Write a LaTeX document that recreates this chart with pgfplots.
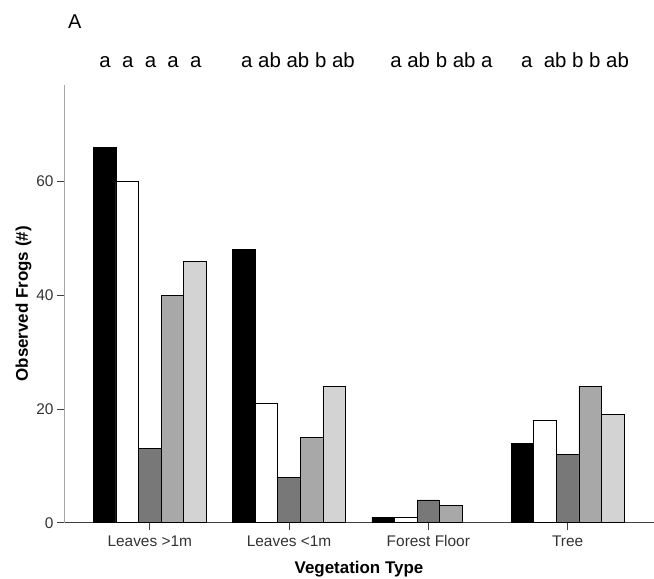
\documentclass[border=0pt]{standalone}
\usepackage{fontspec}
\setmainfont{Liberation Sans}
\usepackage{pgfplots}
\pgfplotsset{compat=1.18}
\definecolor{cdark}{HTML}{787878}
\definecolor{cmid}{HTML}{A8A8A8}
\definecolor{clight}{HTML}{D3D3D3}
\begin{document}
\begin{tikzpicture}[x=1bp,y=1bp]
\begin{axis}[
  at={(64bp,56.3bp)}, anchor=south west,
  scale only axis, width=590bp, height=437.7bp,
  xmin=-0.616, xmax=3.62, ymin=0, ymax=77,
  clip=false,
  separate axis lines,
  axis x line=bottom, axis y line=left,
  x axis line style={-, draw=black!75, line width=0.8bp},
  y axis line style={-, draw=black!35, line width=0.8bp},
  tick align=outside, major tick length=7bp,
  tick style={draw=black!75, line width=0.8bp},
  xtick={0,1,2,3},
  xticklabels={Leaves >1m, Leaves <1m, Forest Floor, Tree},
  ytick={0,20,40,60},
  /pgf/number format/assume math mode=true,
  tick label style={font=\fontsize{15.5}{18}\selectfont, text=black!80},
  xticklabel style={anchor=base, yshift=-17bp},
  yticklabel style={anchor=east},
  every axis x label/.style={at={(rel axis cs:0.5,0)}, anchor=base, yshift=-50.3bp},
  every axis y label/.style={at={(rel axis cs:0,0.5)}, anchor=base, xshift=-36bp, rotate=90},
  xlabel={\fontsize{17}{20}\selectfont\bfseries Vegetation Type},
  ylabel={\fontsize{17}{20}\selectfont\bfseries Observed Frogs (\#)},
  ybar, bar width=0.1623,
  every axis plot/.append style={draw=black, line width=0.7bp},
]
\addplot[fill=black, bar shift=-0.3246] coordinates {(0,66) (1,48) (2,1) (3,14)};
\addplot[fill=white, bar shift=-0.1623] coordinates {(0,60) (1,21) (2,1) (3,18)};
\addplot[fill=cdark, bar shift=0] coordinates {(0,13) (1,8) (2,4) (3,12)};
\addplot[fill=cmid, bar shift=0.1623] coordinates {(0,40) (1,15) (2,3) (3,24)};
\addplot[fill=clight, bar shift=0.3246] coordinates {(0,46) (1,24) (3,19)};
\begin{scope}[every node/.style={anchor=base, font=\fontsize{20.5}{24}\selectfont, inner sep=0pt}]
\node at (axis cs:0.005,80) {a\ \ a\ \ a\ \ a\ \ a};
\node at (axis cs:1.064,80) {a ab ab b ab};
\node at (axis cs:2.094,80) {a ab b ab a};
\node at (axis cs:3.053,80) {a\ \ ab b b ab};
\end{scope}
\end{axis}
\node[anchor=base west, inner sep=0pt, font=\fontsize{20}{24}\selectfont] at (68bp,550bp) {A};
\pgfresetboundingbox
\path (0,0) rectangle (654bp,579bp);
\end{tikzpicture}
\end{document}
